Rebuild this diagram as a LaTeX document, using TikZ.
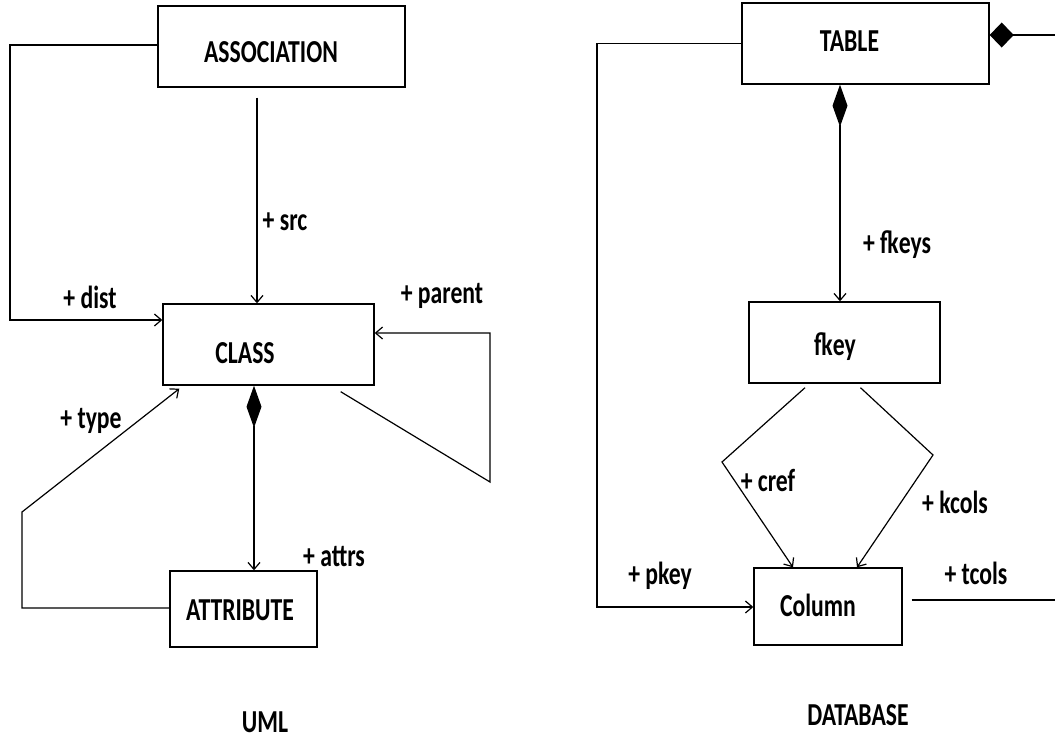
\documentclass[tikz,border=0pt]{standalone}
\usepackage{fontspec}
\setmainfont[FakeStretch=0.74]{Carlito}
\usetikzlibrary{arrows.meta,calc}
\newcommand\bt[3]{\hspace*{#1}\raisebox{#2}[\height][\depth]{#3}}
\begin{document}
\begin{tikzpicture}[x=1pt,y=-1pt,
  lbl/.style={inner sep=0pt, font=\fontsize{32}{36}\selectfont\bfseries},
  ttl/.style={inner sep=0pt, font=\fontsize{32}{36}\selectfont\bfseries},
  box/.style={draw, line width=1.4pt, inner sep=0pt, font=\fontsize{32}{36}\selectfont\bfseries},
  conn/.style={line width=1.2pt},
  arr/.style={conn, -{Straight Barb[length=7pt,width=12pt]}},
  comp/.style={conn, {Diamond[length=42pt,width=15pt]}-{Straight Barb[length=7pt,width=12pt]}},
]
\useasboundingbox (0,0) rectangle (1055,740);

% boxes
\node[box, minimum width=247pt, minimum height=81pt] (assoc) at (281.5,46.5) {\bt{-21pt}{-5.5pt}{ASSOCIATION}};
\node[box, minimum width=211pt, minimum height=81pt] (class) at (268.5,344.5) {\bt{-47pt}{-8.5pt}{CLASS}};
\node[box, minimum width=147pt, minimum height=76pt] (attr) at (243.5,609) {\bt{-7pt}{-1pt}{ATTRIBUTE}};
\node[box, minimum width=247pt, minimum height=81pt] (table) at (865.5,43.5) {\bt{-32pt}{2.5pt}{TABLE}};
\node[box, minimum width=191pt, minimum height=81pt] (fkey) at (844.5,342.5) {\bt{-19pt}{-4.5pt}{fkey}};
\node[box, minimum width=148pt, minimum height=77pt] (column) at (828,606.5) {\bt{-20pt}{1.5pt}{Column}};

% labels
\node[lbl] (lsrc) at (285,222) {+ src};
\node[lbl] (ldist) at (90,297) {+ dist};
\node[lbl] (lparent) at (442,296) {+ parent};
\node[lbl] (ltype) at (91,421) {+ type};
\node[lbl] (lattrs) at (334,557) {+ attrs};
\node[lbl] (lfkeys) at (897,245) {+ fkeys};
\node[lbl] (lcref) at (768,480) {+ cref};
\node[lbl] (lkcols) at (955,502) {+ kcols};
\node[lbl] (lpkey) at (660,576) {+ pkey};
\node[lbl] (ltcols) at (976,573) {+ tcols};
\node[ttl] (uml) at (265,722) {UML};
\node[ttl] (db) at (858,715) {DATABASE};

% free ends at the right edge
\coordinate (e1) at (1055,35);
\coordinate (e2) at (1055,600);

% UML connectors
\draw[arr] (assoc.west |- 0,45) -- (10,45) -- (10,320) -- (class.west |- 0,320);
\draw[arr] ($(assoc.south)+(-24.5,10)$) -- (class.north -| 257,0);
\draw[arr] ($(class.south east)+(-34,6)$) -- (490,482) -- (490,333) -- (class.east |- 0,333);
\draw[arr] (attr.west |- 0,608) -- (22,608) -- (22,512) -- ($(class.south west)+(17,3)$);
\draw[comp] (class.south -| 254,0) -- (attr.north -| 254,0);

% DATABASE connectors
\draw[arr] (table.west) -- (597,43.5) -- (597,607) -- (column.west |- 0,607);
\draw[comp] (table.south -| 840,0) -- (fkey.north -| 840,0);
\draw[conn, {Diamond[length=24pt,width=25pt]}-] (table.east |- e1) -- (e1);
\draw[arr] ($(fkey.south)+(-39.5,4)$) -- (722,462) -- (column.north -| 793,0);
\draw[arr] ($(fkey.south)+(16,4)$) -- (933,455) -- (column.north -| 857,0);
\draw[conn] ($(column.east)+(9,-6.5)$) -- (e2);
\end{tikzpicture}
\end{document}
